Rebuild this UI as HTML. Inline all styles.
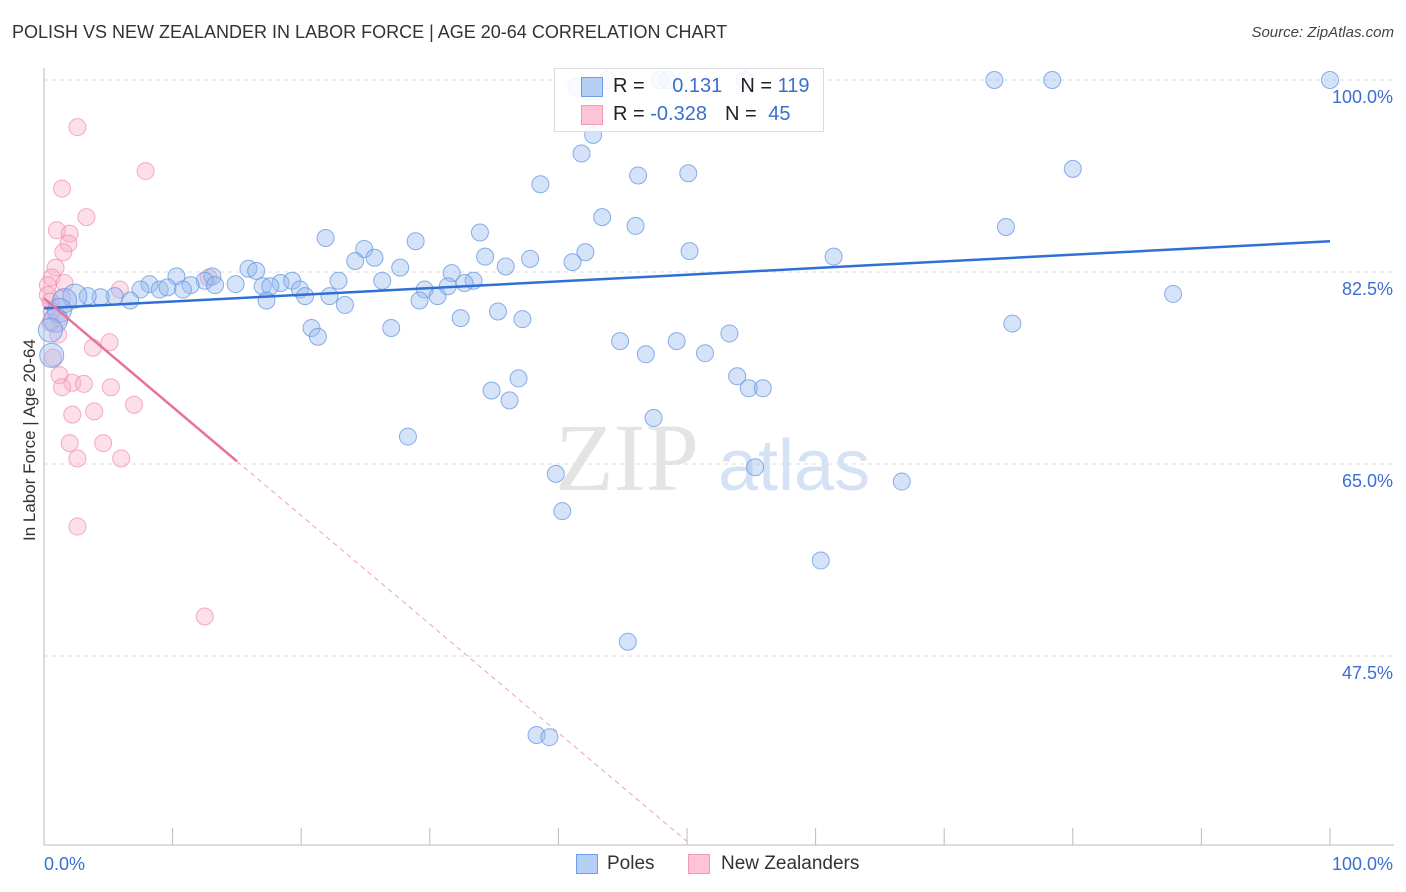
<!DOCTYPE html>
<html><head><meta charset="utf-8">
<style>
body{margin:0;background:#fff;font-family:"Liberation Sans",sans-serif;}
#wrap{position:relative;width:1406px;height:892px;overflow:hidden;}
.t{position:absolute;white-space:nowrap;}
</style></head><body>
<div id="wrap">
<div class="t" style="left:12px;top:22px;font-size:18px;color:#333;">POLISH VS NEW ZEALANDER IN LABOR FORCE | AGE 20-64 CORRELATION CHART</div>
<div class="t" style="right:12px;top:24px;font-size:15px;color:#444;font-style:italic;">Source: ZipAtlas.com</div>
<div class="t" style="left:-55px;top:446px;font-size:17px;color:#333;transform:rotate(-90deg);transform-origin:center;width:170px;text-align:center;">In Labor Force | Age 20-64</div>
<svg id="svg" width="1406" height="892" style="position:absolute;left:0;top:0"></svg>
<div style="position:absolute;left:554px;top:68px;width:268px;height:62px;border:1px solid #ddd;background:rgba(255,255,255,0.85);">
<div style="position:absolute;left:26px;top:8px;width:20px;height:18px;background:#b6cff5;border:1px solid #6d9de8;"></div>
<div style="position:absolute;left:26px;top:36px;width:20px;height:18px;background:#fcc4d4;border:1px solid #f09ab5;"></div>
<div class="t" style="left:58px;top:6px;font-size:20px;color:#222;">R = <span style="color:#3a6fd1;margin-left:22px">0.131</span><span style="margin-left:18px">N = </span><span style="color:#3a6fd1">119</span></div>
<div class="t" style="left:58px;top:34px;font-size:20px;color:#222;">R = <span style="color:#3a6fd1">-0.328</span><span style="margin-left:18px">N = </span><span style="color:#3a6fd1;margin-left:6px">45</span></div>
</div>
<div style="position:absolute;left:576px;top:854px;">
<div style="position:absolute;left:0;top:0;width:20px;height:18px;background:#b6cff5;border:1px solid #6d9de8;"></div>
<div class="t" style="left:31px;top:-1px;font-size:19px;color:#333;">Poles</div></div>
<div style="position:absolute;left:688px;top:854px;">
<div style="position:absolute;left:0;top:0;width:20px;height:18px;background:#fcc4d4;border:1px solid #f09ab5;"></div>
<div class="t" style="left:33px;top:-1px;font-size:19px;color:#333;">New Zealanders</div></div>
</div>
<script>
const yTicks=[100,82.5,65,47.5];
const xTickLabels=["0.0%","100.0%"];
const blueX=[47.9,48.5,54.5,73.9,78.4,100,41.4,43.8,42.7,41.8,38.6,46.2,50.1,80.0,43.4,46.0,33.9,21.9,28.9,24.9,42.1,50.2,74.8,61.4,34.3,37.8,41.1,35.9,25.7,24.2,27.7,31.7,33.4,26.3,22.9,15.9,16.5,13.1,10.3,12.5,8.2,9.0,7.5,11.4,14.9,13.3,18.4,19.3,17.0,19.9,17.6,22.2,20.3,23.4,17.3,29.6,30.6,29.2,31.4,32.7,10.8,9.6,6.7,5.5,4.4,3.4,2.4,1.6,1.2,0.9,0.5,0.6,87.8,75.3,32.4,35.3,37.2,20.8,21.3,27.0,44.8,46.8,49.2,51.4,53.3,53.9,54.8,55.9,36.9,34.8,36.2,47.4,28.3,39.8,55.3,66.7,40.3,60.4,45.4,38.3,39.3];
const blueY=[100,100,100,100,100,100,99.4,100,95.0,93.3,90.5,91.3,91.5,91.9,87.5,86.7,86.1,85.6,85.3,84.6,84.3,84.4,86.6,83.9,83.9,83.7,83.4,83.0,83.8,83.5,82.9,82.4,81.7,81.7,81.7,82.8,82.6,82.1,82.1,81.7,81.4,80.9,80.9,81.3,81.4,81.3,81.5,81.7,81.2,80.9,81.2,80.3,80.3,79.5,79.9,80.9,80.3,79.9,81.2,81.5,80.9,81.1,79.9,80.3,80.2,80.3,80.3,79.9,79.0,78.1,77.2,74.9,80.5,77.8,78.3,78.9,78.2,77.4,76.6,77.4,76.2,75.0,76.2,75.1,76.9,73.0,71.9,71.9,72.8,71.7,70.8,69.2,67.5,64.1,64.7,63.4,60.7,56.2,48.8,40.3,40.1];
const pinkX=[2.6,7.9,1.4,3.3,1.0,2.0,1.9,1.5,0.9,0.6,1.6,0.3,0.3,0.5,0.6,1.2,1.1,5.1,3.8,0.7,1.2,2.2,3.1,5.2,1.4,7.0,3.9,2.2,2.0,4.6,2.6,6.0,2.6,12.5,12.8,5.9,1.4,0.5];
const pinkY=[95.7,91.7,90.1,87.5,86.3,86.0,85.1,84.3,82.9,82.0,81.5,81.3,80.4,79.8,78.9,78.3,76.8,76.1,75.6,74.7,73.1,72.4,72.3,72.0,72.0,70.4,69.8,69.5,66.9,66.9,65.5,65.5,59.3,51.1,82.0,80.9,80.1,77.9];
const blueLine=[79.2,85.3];
const pinkLine=[80.1,-0.99];
const NS="http://www.w3.org/2000/svg";
const svg=document.getElementById('svg');
const X0=44,X1=1330,Y100=80,PX=192/17.5;
const sx=v=>X0+(X1-X0)*v/100;
const sy=v=>Y100+(100-v)*PX;
function mk(tag,attrs){const e=document.createElementNS(NS,tag);for(const k in attrs)e.setAttribute(k,attrs[k]);svg.appendChild(e);return e;}
let w=mk('text',{x:555,y:490,'font-size':96,fill:'#e4e4e4','font-family':'Liberation Serif'});w.textContent='ZIP';


let w2=mk('text',{x:718,y:490,'font-size':72,fill:'#d5e2f5','font-family':'Liberation Sans'});w2.textContent='atlas';


yTicks.forEach(v=>{
 const g=mk('line',{x1:X0,x2:1394,y1:sy(v),y2:sy(v),stroke:'#ddd','stroke-dasharray':'4,4'});
 
 
 const t=mk('text',{x:1393,y:sy(v)+23,'text-anchor':'end','font-size':18,fill:'#3a6fd1'});t.textContent=v.toFixed(1)+'%';
 
 
});
let ax=mk('line',{x1:X0,x2:1394,y1:845,y2:845,stroke:'#bbb'});


let ay=mk('line',{x1:X0,x2:X0,y1:68,y2:845,stroke:'#bbb'});


for(let i=1;i<=10;i++){const tk=mk('line',{x1:sx(i*10),x2:sx(i*10),y1:828,y2:845,stroke:'#bbb'});
 
 }
let xl0=mk('text',{x:44,y:870,'font-size':18,fill:'#3a6fd1'});xl0.textContent=xTickLabels[0];


let xl1=mk('text',{x:1393,y:870,'text-anchor':'end','font-size':18,fill:'#3a6fd1'});xl1.textContent=xTickLabels[1];


pinkX.forEach((x,i)=>{const c=mk('circle',{cx:sx(x),cy:sy(pinkY[i]),r:8.5,fill:'rgba(249,170,196,0.38)',stroke:'rgba(240,140,175,0.7)'});
 
 });
blueX.forEach((x,i)=>{const big=x<3;const c=mk('circle',{cx:sx(x),cy:sy(blueY[i]),r:big?12:8.5,fill:'rgba(150,186,240,0.4)',stroke:'rgba(100,150,225,0.75)'});
 
 });
let bl=mk('line',{x1:sx(0),y1:sy(blueLine[0]),x2:sx(100),y2:sy(blueLine[1]),stroke:'#2f6fd6','stroke-width':2.5});


const pe=15,pd=(30.3-pinkLine[0])/pinkLine[1];
let pl=mk('line',{x1:sx(0),y1:sy(pinkLine[0]),x2:sx(pe),y2:sy(pinkLine[0]+pinkLine[1]*pe),stroke:'#e8739a','stroke-width':2.5});


let pdl=mk('line',{x1:sx(pe),y1:sy(pinkLine[0]+pinkLine[1]*pe),x2:sx(pd),y2:sy(30.3),stroke:'#f0a0b8','stroke-width':1,'stroke-dasharray':'5,4'});


</script>
</body></html>
